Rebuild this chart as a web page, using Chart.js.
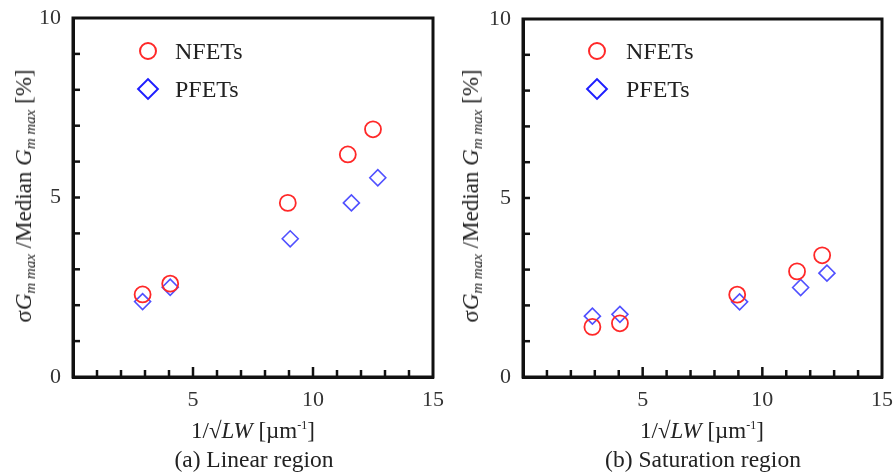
<!DOCTYPE html>
<html>
<head>
<meta charset="utf-8">
<script src="https://cdn.jsdelivr.net/npm/chart.js@4"></script>
<style>
  body { margin: 0; background: #fff; font-family: "Liberation Serif", serif; color: #222; }
  #wrap { position: relative; width: 893px; height: 476px; overflow: hidden; }
  .box { position: absolute; top: 0; height: 476px; }
  .txt { position: absolute; white-space: nowrap; transform: translate(-50%, -50%); font-size: 23px; line-height: 1; }
  .cap { font-size: 23.5px; }
  .ylab { position: absolute; white-space: nowrap; transform: translate(-50%, -50%) rotate(-90deg); font-size: 23px; line-height: 1; }
  .ylab sub { font-size: 15px; vertical-align: -4px; }
  sup { font-size: 12px; vertical-align: 9px; }
  .leg { position: absolute; font-size: 24px; line-height: 1; transform: translateY(-50%); }
  .circ { position: absolute; width: 14px; height: 14px; border: 2px solid rgb(255,40,40); border-radius: 50%; transform: translate(-50%, -50%); }
  .diam { position: absolute; width: 12px; height: 12px; border: 2.5px solid rgb(30,30,255); transform: translate(-50%, -50%) rotate(45deg); }
</style>
</head>
<body>
<div id="wrap">
  <div class="box" style="left:0;width:446px"><canvas id="linChart"></canvas></div>
  <div class="box" style="left:446px;width:447px"><canvas id="satChart"></canvas></div>

  <!-- legenda esquerda -->
  <div class="circ" style="left:148px;top:51px"></div>
  <div class="leg" style="left:175px;top:51px">NFETs</div>
  <div class="diam" style="left:148px;top:89px"></div>
  <div class="leg" style="left:175px;top:89px">PFETs</div>
  <!-- legenda direita -->
  <div class="circ" style="left:597px;top:51px"></div>
  <div class="leg" style="left:626px;top:51px">NFETs</div>
  <div class="diam" style="left:597px;top:89px"></div>
  <div class="leg" style="left:626px;top:89px">PFETs</div>

  <div class="ylab" style="left:25px;top:196px">σ<i>G</i><sub><i>m max</i></sub> /Median <i>G</i><sub><i>m max</i></sub> [%]</div>
  <div class="ylab" style="left:472px;top:196px">σ<i>G</i><sub><i>m max</i></sub> /Median <i>G</i><sub><i>m max</i></sub> [%]</div>

  <div class="txt" style="left:253px;top:430px">1/√<i>LW</i> [µm<sup>-1</sup>]</div>
  <div class="txt cap" style="left:254px;top:460px">(a) Linear region</div>
  <div class="txt" style="left:702px;top:430px">1/√<i>LW</i> [µm<sup>-1</sup>]</div>
  <div class="txt cap" style="left:703px;top:460px">(b) Saturation region</div>
</div>

<script>
// DADOS
const nX = [2.9, 4.05, 8.95, 11.45, 12.5];
const pX = [2.9, 4.05, 9.05, 11.6, 12.7];
const linN = [2.3, 2.6, 4.85, 6.2, 6.9];
const linP = [2.1, 2.5, 3.85, 4.85, 5.55];
const satN = [1.4, 1.5, 2.3, 2.95, 3.4];
const satP = [1.7, 1.75, 2.1, 2.5, 2.9];
const xTickLabels = [5, 10, 15];
const yTickLabels = [0, 5, 10];

const pts = (xs, ys) => xs.map((x, i) => ({ x: x, y: ys[i] }));

// moldura + ticks para dentro
const framePlugin = {
  id: "frame",
  afterDraw(chart) {
    const { ctx, chartArea: a, scales } = chart;
    ctx.save();
    ctx.strokeStyle = "#111";
    ctx.lineWidth = 2.5;
    scales.x.ticks.forEach((t) => {
      if (t.value <= 0 || t.value >= 15) return;
      const px = scales.x.getPixelForValue(t.value);
      const len = t.value % 5 === 0 ? 10 : 7;
      ctx.beginPath();
      ctx.moveTo(px, a.bottom);
      ctx.lineTo(px, a.bottom - len);
      ctx.stroke();
    });
    scales.y.ticks.forEach((t) => {
      if (t.value <= 0 || t.value >= 10) return;
      const py = scales.y.getPixelForValue(t.value);
      ctx.beginPath();
      ctx.moveTo(a.left, py);
      ctx.lineTo(a.left + 7, py);
      ctx.stroke();
    });
    ctx.lineWidth = 3;
    ctx.strokeRect(a.left, a.top, a.right - a.left, a.bottom - a.top);
    ctx.restore();
  },
};

function makeChart(id, nData, pData, padRight, yWidth, padTop) {
  const ctx = document.getElementById(id).getContext("2d");
  return new Chart(ctx, {
    type: "scatter",
    data: {
      datasets: [
        {
          label: "NFETs",
          data: pts(nX, nData),
          pointStyle: "circle",
          pointRadius: 8,
          pointBorderWidth: 1.8,
          borderColor: "rgb(255,40,40)",
          backgroundColor: "rgba(0,0,0,0)",
        },
        {
          label: "PFETs",
          data: pts(pX, pData),
          pointStyle: "rectRot",
          pointRadius: 8,
          pointBorderWidth: 1.6,
          borderColor: "rgb(80,80,255)",
          backgroundColor: "rgba(0,0,0,0)",
        },
      ],
    },
    options: {
      responsive: false,
      animation: false,
      layout: { padding: { top: padTop, right: padRight, left: 0, bottom: 0 } },
      plugins: { legend: { display: false }, tooltip: { enabled: false } },
      scales: {
        x: {
          type: "linear",
          min: 0,
          max: 15,
          grid: { display: false },
          border: { display: true, color: "#111", width: 3 },
          ticks: {
            stepSize: 1,
            autoSkip: false,
            maxRotation: 0,
            minRotation: 0,
            padding: 2,
            color: "#333",
            font: { family: "Liberation Serif", size: 22 },
            callback: (v) => (xTickLabels.includes(v) ? v : ""),
          },
          afterFit: (s) => {
            s.height = 99;
            s.paddingLeft = 0;
            s.paddingRight = 0;
          },
        },
        y: {
          type: "linear",
          min: 0,
          max: 10,
          grid: { display: false },
          border: { display: true, color: "#111", width: 3 },
          ticks: {
            stepSize: 1,
            autoSkip: false,
            padding: 4,
            color: "#333",
            font: { family: "Liberation Serif", size: 22 },
            callback: (v) => (yTickLabels.includes(v) ? v : ""),
          },
          afterFit: (s) => {
            s.width = yWidth;
            s.paddingTop = 0;
            s.paddingBottom = 0;
          },
        },
      },
    },
    plugins: [framePlugin],
  });
}

document.getElementById("linChart").width = 446;
document.getElementById("linChart").height = 476;
document.getElementById("satChart").width = 447;
document.getElementById("satChart").height = 476;

makeChart("linChart", linN, linP, 13, 73, 18);
makeChart("satChart", satN, satP, 11, 77, 19);
</script>
</body>
</html>
